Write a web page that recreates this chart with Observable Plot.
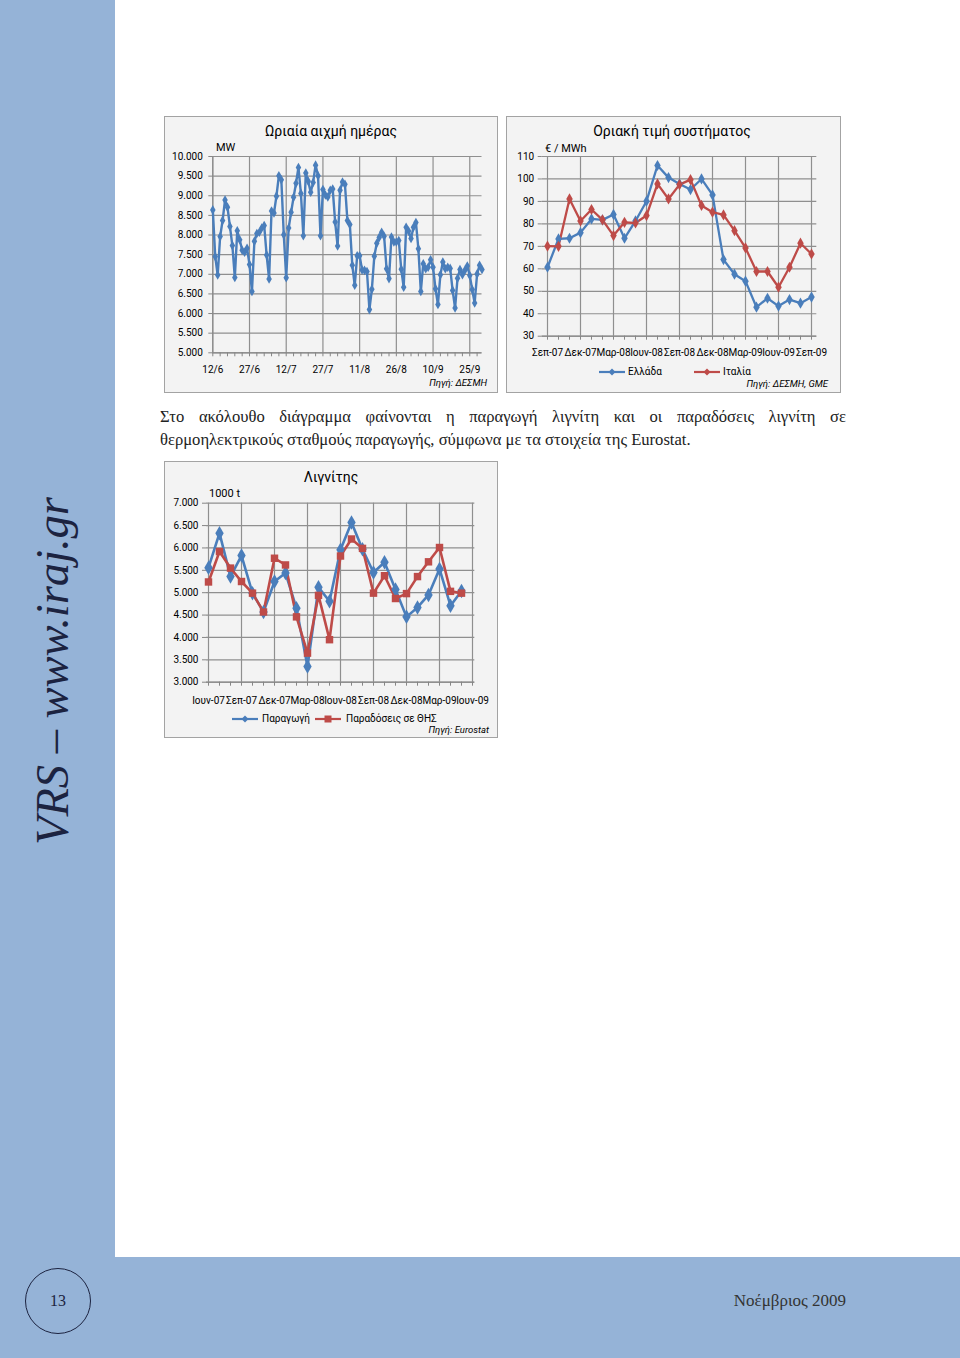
<!DOCTYPE html>
<html><head><meta charset="utf-8">
<script src="https://cdn.jsdelivr.net/npm/d3@7"></script>
<script src="https://cdn.jsdelivr.net/npm/@observablehq/plot@0.6"></script>
<style>
html,body{margin:0;padding:0;}
body{width:960px;height:1358px;position:relative;background:#95b3d7;overflow:hidden;font-family:Roboto,"Open Sans",sans-serif;}
.page{position:absolute;left:115px;top:0;width:845px;height:1257px;background:#fff;}
.box{position:absolute;background:#f3f3f3;}
.box svg{position:absolute;left:0;top:0;overflow:visible;}
.border{position:absolute;left:0;top:0;right:0;bottom:0;border:1.5px solid #a3a3a3;box-sizing:border-box;pointer-events:none;}
.t{position:absolute;white-space:nowrap;color:#000;line-height:1;}
.para{position:absolute;left:160px;width:686px;font-family:"Liberation Serif","DejaVu Serif",serif;font-size:16.6px;color:#222;white-space:nowrap;}
</style></head><body>
<div class="page"></div>
<script>
// ---------- DATA ----------
// Chart 1: Ωριαία αιχμή ημέρας (MW), daily from 12/6/2009
const peakStart = "2009-06-12";
const peakLoad = [8640,7450,6980,7960,8370,8890,8710,8220,7730,6920,
  8110,7880,7610,7560,7660,7250,6560,7840,8040,8070,
  8180,8240,7490,6880,8610,8560,8990,9510,9410,8010,
  6910,8180,8580,8960,9320,9720,9060,7980,9580,9370,
  9090,9340,9780,9510,7980,9160,9020,8970,9140,9170,
  8330,7720,9140,9350,9290,8370,8270,7230,6720,7470,
  7470,7110,7100,7070,6100,6620,7460,7790,7940,8070,
  7970,7140,6890,7950,7820,7820,7860,7130,6670,8200,
  8100,7910,8200,8320,7650,6560,7270,7140,7180,7370,
  7180,6630,6230,6990,7310,7140,7180,7150,6590,6140,
  6900,7120,6990,7100,7210,6970,6610,6270,7010,7230,7120];
const peakTickLabels = ["12/6","27/6","12/7","27/7","11/8","26/8","10/9","25/9"];
const peakYTicks = [5000,5500,6000,6500,7000,7500,8000,8500,9000,9500,10000];

// Chart 2: Οριακή τιμή συστήματος (€/MWh)
const smpMonths = ["Σεπ-07","Οκτ-07","Νοε-07","Δεκ-07","Ιαν-08","Φεβ-08","Μαρ-08","Απρ-08","Μαϊ-08","Ιουν-08","Ιουλ-08","Αυγ-08","Σεπ-08","Οκτ-08","Νοε-08","Δεκ-08","Ιαν-09","Φεβ-09","Μαρ-09","Απρ-09","Μαϊ-09","Ιουν-09","Ιουλ-09","Αυγ-09","Σεπ-09"];
const smpGreece = [60.7,73.3,73.6,76.1,82.2,81.8,84.2,73.6,81.3,90.1,106.0,100.6,97.8,95.3,100.0,92.9,64.1,57.6,54.5,42.9,46.9,43.4,46.3,44.7,47.4];
const smpItaly  = [70.1,70.0,91.1,81.3,86.4,81.8,74.8,80.7,80.4,83.7,97.8,91.1,97.5,99.7,88.2,85.2,84.0,77.0,69.3,58.8,58.8,51.8,60.7,71.4,66.6];
const smpTickLabels = ["Σεπ-07","Δεκ-07","Μαρ-08","Ιουν-08","Σεπ-08","Δεκ-08","Μαρ-09","Ιουν-09","Σεπ-09"];
const smpYTicks = [30,40,50,60,70,80,90,100,110];

// Chart 3: Λιγνίτης (1000 t)
const ligMonths = ["Ιουν-07","Ιουλ-07","Αυγ-07","Σεπ-07","Οκτ-07","Νοε-07","Δεκ-07","Ιαν-08","Φεβ-08","Μαρ-08","Απρ-08","Μαϊ-08","Ιουν-08","Ιουλ-08","Αυγ-08","Σεπ-08","Οκτ-08","Νοε-08","Δεκ-08","Ιαν-09","Φεβ-09","Μαρ-09","Απρ-09","Μαϊ-09","Ιουν-09"];
const ligProduction = [5560,6330,5360,5830,4990,4570,5250,5440,4650,3350,5120,4810,5960,6570,5970,5450,5680,5070,4460,4670,4950,5530,4710,5040];
const ligDeliveries = [5240,5920,5550,5250,4990,4570,5770,5620,4460,3650,4940,3950,5820,6200,5990,4990,5380,4870,4980,5360,5690,6010,5030,4990];
const ligTickLabels = ["Ιουν-07","Σεπ-07","Δεκ-07","Μαρ-08","Ιουν-08","Σεπ-08","Δεκ-08","Μαρ-09","Ιουν-09"];
const ligYTicks = [3000,3500,4000,4500,5000,5500,6000,6500,7000];

// ---------- HELPERS ----------
const SANS = "Roboto, 'Open Sans', sans-serif";
const BLUE = "#4a7ebb", RED = "#be4b48", GRID = "#8f8f8f", AXIS = "#868686";
const fmtK = v => d3.format(",")(v).replace(/,/g, ".");

function label(txt, x, y, o = {}) {
  const {size = 11, anchor = "start", italic = false, family = SANS, color = "#000"} = o;
  const el = document.createElement("div");
  el.className = "t"; el.textContent = txt;
  const tx = anchor === "middle" ? "-50%" : anchor === "end" ? "-100%" : "0";
  el.style.cssText += `left:${x}px;top:${y}px;font-size:${size}px;font-family:${family};font-style:${italic ? "italic" : "normal"};color:${color};transform:translate(${tx},-50%);`;
  document.body.appendChild(el);
  return el;
}
function swatch(x, y, color, symbol) {
  const ns = "http://www.w3.org/2000/svg";
  const svg = document.createElementNS(ns, "svg");
  svg.setAttribute("width", 28); svg.setAttribute("height", 12);
  svg.style.cssText = `position:absolute;left:${x}px;top:${y - 6}px;overflow:visible;`;
  const ln = document.createElementNS(ns, "line");
  ln.setAttribute("x1", 0); ln.setAttribute("x2", 26); ln.setAttribute("y1", 6); ln.setAttribute("y2", 6);
  ln.setAttribute("stroke", color); ln.setAttribute("stroke-width", 2.2);
  svg.appendChild(ln);
  const p = document.createElementNS(ns, "path");
  p.setAttribute("d", symbol === "square" ? "M9.5,2.5h7v7h-7z" : "M13,2.5L16.5,6L13,9.5L9.5,6z");
  p.setAttribute("fill", color);
  svg.appendChild(p);
  document.body.appendChild(svg);
}
function makeBox(left, top, w, h, plotEl) {
  const box = document.createElement("div");
  box.className = "box";
  Object.assign(box.style, {left: left + "px", top: top + "px", width: w + "px", height: h + "px"});
  box.appendChild(plotEl);
  const b = document.createElement("div"); b.className = "border"; box.appendChild(b);
  document.body.appendChild(box);
}
const plotStyle = {background: "transparent", fontFamily: SANS, fontSize: "10px", color: "#000", overflow: "visible"};
const gridOpts = {stroke: GRID, strokeOpacity: 1, strokeWidth: 1.2};

// ---------- CHART 1 ----------
{
  const d0 = new Date(peakStart + "T00:00:00Z");
  const data = peakLoad.map((v, i) => ({date: d3.utcDay.offset(d0, i), v}));
  const end = data[data.length - 1].date;
  const tickDates = peakTickLabels.map(s => { const [d, m] = s.split("/"); return new Date(Date.UTC(2009, +m - 1, +d)); });
  const labelMap = new Map(tickDates.map((d, i) => [+d, peakTickLabels[i]]));
  const minor = d3.range(0, peakLoad.length, 3).map(i => d3.utcDay.offset(d0, i));
  const chart = Plot.plot({
    width: 334, height: 277,
    marginLeft: 48.3, marginRight: 16.5, marginTop: 40, marginBottom: 40.7,
    style: plotStyle,
    x: {type: "utc", domain: [d0, end], label: null},
    y: {domain: [5000, 10000], label: null},
    marks: [
      Plot.gridY(peakYTicks, gridOpts),
      Plot.gridX(tickDates, gridOpts),
      Plot.axisY(peakYTicks, {tickSize: 4, tickPadding: 6, tickFormat: fmtK, stroke: AXIS, label: null}),
      Plot.axisX(minor, {tickSize: 4, tickFormat: () => "", stroke: AXIS, label: null}),
      Plot.axisX(tickDates, {tickSize: 0, tickPadding: 13, tickFormat: d => labelMap.get(+d), label: null}),
      Plot.ruleY([5000], {stroke: AXIS}),
      Plot.ruleX([d0], {stroke: AXIS}),
      Plot.line(data, {x: "date", y: "v", stroke: BLUE, strokeWidth: 2.4}),
      Plot.dot(data, {x: "date", y: "v", symbol: "diamond", r: 2.9, fill: BLUE, stroke: "none"})
    ]
  });
  makeBox(164, 116, 334, 277, chart);
  label("Ωριαία αιχμή ημέρας", 331, 131, {size: 14, anchor: "middle"});
  label("MW", 216, 147, {size: 11});
  label("Πηγή: ΔΕΣΜΗ", 487, 383, {size: 9.5, anchor: "end", italic: true});
}

// ---------- CHART 2 ----------
{
  const rows = [
    ...smpMonths.map((m, i) => ({m, v: smpGreece[i], s: "Ελλάδα"})),
    ...smpMonths.map((m, i) => ({m, v: smpItaly[i], s: "Ιταλία"}))
  ];
  const chart = Plot.plot({
    width: 335, height: 277,
    marginLeft: 35.7, marginRight: 24.7, marginTop: 40, marginBottom: 57.3,
    style: plotStyle,
    x: {type: "point", domain: smpMonths, padding: 0, label: null},
    y: {domain: [30, 110], label: null},
    color: {domain: ["Ελλάδα", "Ιταλία"], range: [BLUE, RED]},
    marks: [
      Plot.gridY(smpYTicks, gridOpts),
      Plot.gridX(smpTickLabels, gridOpts),
      Plot.axisY(smpYTicks, {tickSize: 4, tickPadding: 4, stroke: AXIS, label: null}),
      Plot.axisX(smpMonths, {tickSize: 4, tickFormat: () => "", stroke: AXIS, label: null}),
      Plot.axisX(smpTickLabels, {tickSize: 0, tickPadding: 13, label: null}),
      Plot.ruleY([30], {stroke: AXIS}),
      Plot.line(rows, {x: "m", y: "v", z: "s", stroke: "s", strokeWidth: 2.3}),
      Plot.dot(rows, {x: "m", y: "v", fill: "s", symbol: "diamond", r: 3.4, stroke: "none"})
    ]
  });
  makeBox(506, 116, 335, 277, chart);
  label("Οριακή τιμή συστήματος", 672, 131, {size: 14, anchor: "middle"});
  label("€ / MWh", 545, 148, {size: 11});
  swatch(599, 372, BLUE, "diamond");
  label("Ελλάδα", 628, 372, {size: 10});
  swatch(694, 372, RED, "diamond");
  label("Ιταλία", 723, 372, {size: 10});
  label("Πηγή: ΔΕΣΜΗ,  GME", 828, 384, {size: 9.5, anchor: "end", italic: true});
}

// ---------- CHART 3 ----------
{
  const prod = ligProduction.map((v, i) => ({m: ligMonths[i], v}));
  const del = ligDeliveries.map((v, i) => ({m: ligMonths[i], v}));
  const chart = Plot.plot({
    width: 334, height: 277,
    marginLeft: 42, marginRight: 23.7, marginTop: 41.7, marginBottom: 56.3,
    style: plotStyle,
    x: {type: "point", domain: ligMonths, padding: 0, label: null},
    y: {domain: [3000, 7000], label: null},
    marks: [
      Plot.gridY(ligYTicks, gridOpts),
      Plot.gridX(ligTickLabels, gridOpts),
      Plot.axisY(ligYTicks, {tickSize: 4, tickPadding: 4, tickFormat: fmtK, stroke: AXIS, label: null}),
      Plot.axisX(ligMonths, {tickSize: 4, tickFormat: () => "", stroke: AXIS, label: null}),
      Plot.axisX(ligTickLabels, {tickSize: 0, tickPadding: 15, label: null}),
      Plot.ruleY([3000], {stroke: AXIS}),
      Plot.line(prod, {x: "m", y: "v", stroke: BLUE, strokeWidth: 2.6}),
      Plot.line(del, {x: "m", y: "v", stroke: RED, strokeWidth: 2.6}),
      Plot.dot(prod, {x: "m", y: "v", symbol: "diamond", r: 4.4, fill: BLUE, stroke: "none"}),
      Plot.dot(del, {x: "m", y: "v", symbol: "square", r: 4.2, fill: RED, stroke: "none"})
    ]
  });
  makeBox(164, 461, 334, 277, chart);
  label("Λιγνίτης", 331, 477, {size: 14, anchor: "middle"});
  label("1000 t", 209, 493, {size: 11});
  swatch(232, 719, BLUE, "diamond");
  label("Παραγωγή", 262, 719, {size: 10});
  swatch(315, 719, RED, "square");
  label("Παραδόσεις σε ΘΗΣ", 346, 719, {size: 10});
  label("Πηγή: Eurostat", 489, 730, {size: 9.5, anchor: "end", italic: true});
}

// ---------- PAGE TEXT ----------
{
  const p1 = document.createElement("div");
  p1.className = "para";
  p1.style.cssText += "top:407px;text-align:justify;text-align-last:justify;white-space:normal;";
  p1.textContent = "Στο ακόλουθο διάγραμμα φαίνονται η παραγωγή λιγνίτη και οι παραδόσεις λιγνίτη σε";
  document.body.appendChild(p1);
  const p2 = document.createElement("div");
  p2.className = "para";
  p2.style.cssText += "top:430px;";
  p2.textContent = "θερμοηλεκτρικούς σταθμούς παραγωγής, σύμφωνα με τα στοιχεία της Eurostat.";
  document.body.appendChild(p2);

  const v = document.createElement("div");
  v.textContent = "VRS – www.iraj.gr";
  v.style.cssText = "position:absolute;left:30px;top:845px;transform-origin:0 0;transform:rotate(-90deg);font-family:'Liberation Serif',serif;font-style:italic;font-size:46.5px;line-height:1;white-space:nowrap;color:#1c2340;";
  document.body.appendChild(v);

  const c = document.createElement("div");
  c.style.cssText = "position:absolute;left:25px;top:1268px;width:66px;height:66px;border:1.5px solid #1c2340;border-radius:50%;box-sizing:border-box;";
  document.body.appendChild(c);
  label("13", 58, 1301, {size: 16, anchor: "middle", family: "'Liberation Serif',serif", color: "#1c2340"});
  label("Νοέμβριος 2009", 846, 1300, {size: 17, anchor: "end", family: "'Liberation Serif',serif", color: "#333"});
}
</script>
</body></html>
